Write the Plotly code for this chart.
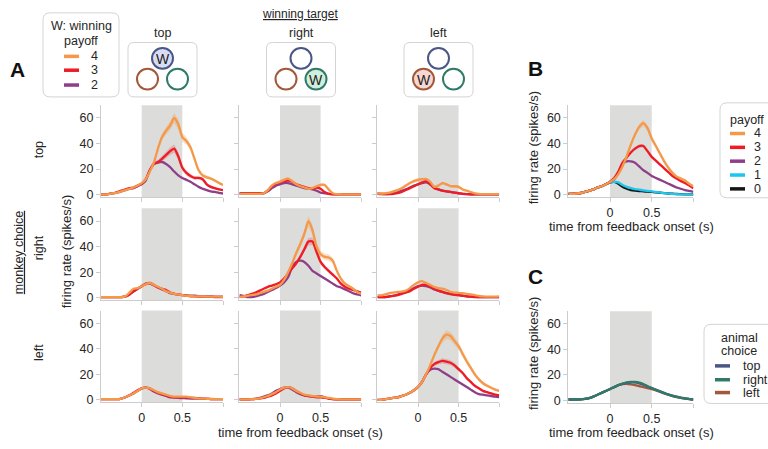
import plotly.graph_objects as go

# ---------------- data ----------------
T = [-0.5, -0.45, -0.4, -0.35, -0.3, -0.25, -0.2, -0.15, -0.1, -0.05, 0.0, 0.05, 0.1, 0.15, 0.2, 0.25,
     0.3, 0.35, 0.4, 0.45, 0.5, 0.55, 0.6, 0.65, 0.7, 0.75, 0.8, 0.85, 0.9, 0.95, 1.0]

X_TICKS = [0, 0.5, 1.0]
X_TICKTEXT = ["0", "0.5", ""]
Y_TICKS = [0, 20, 40, 60]
CHOICES = ["top", "right", "left"]
PAYOFFS = ["4", "3", "2", "1", "0"]

# monkey choice = top
tt4 = [0, 0, 0.5, 1, 1.5, 2.5, 3.5, 4.5, 5.5, 7, 9, 12, 18, 25, 36, 45, 50, 54, 60, 55, 45, 42, 37, 28, 19, 15, 13.5, 12.5, 11, 9, 7.5]
tt3 = [0, 0, 0.5, 1, 2, 3, 4, 5, 5.5, 7, 8.5, 12, 19, 24, 25.5, 28, 31, 34, 36, 30, 21, 17, 14.5, 13, 13, 12, 8, 6, 5, 4, 3.4]
tt2 = [0, 0, 0.5, 1, 1.5, 2.5, 3.5, 4.5, 5, 6.5, 8, 11, 19, 24, 25, 25.5, 24, 21.5, 18, 15, 13, 11.5, 10, 8, 6, 4.5, 3.5, 2.5, 2, 1.3, 0.8]
tr4 = [0.5, 0.5, 0.5, 0.5, 0.5, 0.5, 1, 3.5, 7, 9, 10, 11.5, 12.5, 10.5, 8, 6.5, 5.5, 4.5, 5, 6.5, 7.5, 7.5, 4, 1, 0.3, 0.2, 0.2, 0.2, 0.2, 0.2, 0.2]
tr3 = [1, 0.5, 1, 1, 1, 1, 1, 3, 6.5, 8.5, 9.5, 10.5, 11, 10, 8, 7, 6, 5, 4.5, 5.5, 4.5, 2, 0.5, 0.2, 0.2, 0.2, 0.2, 0.2, 0.2, 0.2, 0.2]
tr2 = [1, 1, 1, 1, 1, 1, 1, 2.5, 5, 7, 8, 9, 9, 8, 7, 6, 5, 4.5, 4, 3, 1.5, 1, 0.5, 0.3, 0.2, 0.2, 0.2, 0.2, 0.2, 0.2, 0.2]
tl4 = [1, 0.8, 1, 1.5, 2.5, 3.5, 5, 7, 9, 10.5, 11.5, 12, 12, 10, 6, 7, 9, 8, 6.5, 6.5, 6, 4, 3, 2, 1, 0.5, 0.3, 0.3, 0.3, 0.3, 0.3]
tl3 = [1, 0.5, 0.3, 0.3, 0.5, 1, 2, 3.5, 5, 6.5, 8, 9.5, 10.5, 8, 5, 4, 3, 2.5, 2, 1.5, 1, 0.5, 0.3, 0.2, 0.2, 0.2, 0.2, 0.2, 0.2, 0.2, 0.2]
tl2 = [0.5, 0.3, 0.3, 0.5, 1, 2, 3, 4, 5.5, 7, 8, 9, 9.5, 8, 5.5, 4, 3, 2.5, 2, 1.5, 1, 0.5, 0.3, 0.2, 0.2, 0.2, 0.2, 0.2, 0.2, 0.2, 0.2]

# monkey choice = right
rt4 = [0.5, 0.5, 0.5, 0.5, 0.5, 0.5, 1, 4, 7, 7.5, 9, 10.5, 11.5, 10, 8.5, 7, 5, 4, 3, 2.5, 2, 1.5, 1.5, 1, 1, 1, 0.8, 0.8, 0.8, 0.8, 0.6]
rt3 = [0.5, 0.5, 0.5, 0.5, 0.5, 0.5, 0.8, 2.5, 5, 7, 9, 11, 11.5, 10, 8, 7, 6, 4, 3, 2.5, 2, 1.5, 1, 1, 0.8, 0.8, 0.6, 0.6, 0.5, 0.5, 0.5]
rt2 = [0.5, 0.5, 0.5, 0.5, 0.5, 0.5, 1, 2.5, 5, 7, 9, 10.5, 11, 9.5, 8, 6.5, 5, 3.5, 3, 2.5, 2, 2, 1.5, 1.5, 1.2, 1, 1, 1, 0.8, 0.8, 0.8]
rr4 = [0.5, 1, 1.5, 2, 2.5, 3.5, 4.5, 5.5, 7, 8.5, 10, 14, 20, 27, 35, 42, 50, 60, 53, 40, 34, 32, 31.5, 29, 21, 15, 11, 9, 7, 4.5, 3]
rr3 = [0.5, 1, 2, 3, 4, 5.5, 7, 8.5, 9.5, 10.5, 12, 15, 19, 23, 27, 32, 38, 44, 44, 36, 28, 24, 21, 18, 15, 11, 8.5, 7, 6, 5, 4]
rr2 = [2, 1.5, 0.5, 0.5, 1, 2, 3, 4.5, 6, 7.5, 9.5, 12, 16, 24, 28, 29, 28, 25, 21, 19, 17, 15, 13, 11, 9, 8, 6.5, 5, 3.5, 2.5, 1.8]
rl4 = [2, 1.8, 2.5, 3.5, 4, 4.5, 4.8, 5.5, 7.5, 10, 12, 13, 11.5, 10, 8.5, 7.5, 7, 6, 4.5, 4, 3.8, 3.5, 3, 2.5, 2, 1.3, 1, 0.8, 0.8, 0.8, 1]
rl3 = [0.5, 0.5, 0.5, 1, 1.5, 2, 3, 4, 5, 7, 8.5, 10, 10, 8.5, 7, 5.5, 4.5, 3.5, 2.8, 2.2, 2, 1.5, 1, 0.8, 0.5, 0.5, 0.5, 0.5, 0.5, 0.5, 0.5]
rl2 = [0.5, 0.5, 0.5, 1, 1.5, 2.5, 3.5, 4.5, 6, 7.5, 9, 9.5, 9, 8, 6.5, 5.5, 4.5, 3.5, 3, 2.5, 2, 1.5, 1, 0.8, 0.6, 0.5, 0.5, 0.5, 0.5, 0.5, 0.5]

# monkey choice = left
lt4 = [0.5, 0.5, 0.5, 0.5, 0.5, 1, 2, 3.5, 5, 7, 9, 9.5, 9, 7.5, 6, 5, 4, 3, 2.5, 2.5, 2.5, 2.5, 2, 1.5, 1, 1, 0.8, 0.8, 0.6, 0.5, 0.5]
lt3 = [0.5, 0.5, 0.5, 0.5, 0.5, 1, 2, 3.5, 5.5, 7.5, 9, 9.5, 9, 7, 5.5, 4.5, 3.5, 2.5, 2, 2, 2, 2, 1.8, 1.5, 1.2, 1, 0.8, 0.6, 0.5, 0.5, 0.5]
lt2 = [0.5, 0.5, 0.5, 0.5, 0.5, 1, 2, 3.5, 5, 7, 9, 9.5, 8.5, 6.5, 5, 4, 3, 2, 1.8, 1.5, 1.3, 1.2, 1, 1, 0.8, 0.8, 0.8, 0.6, 0.6, 0.5, 0.5]
lr4 = [0.3, 0.3, 0.3, 0.5, 0.8, 1.2, 2, 3, 4.5, 6, 8, 9.5, 10, 9, 7, 5.5, 4, 3.5, 3, 2.5, 2.5, 2, 1.5, 1, 0.6, 0.4, 0.3, 0.3, 0.3, 0.3, 0.3]
lr3 = [0.3, 0.3, 0.3, 0.5, 0.8, 1, 1.5, 2.5, 3.5, 5, 7, 9, 10, 9, 7, 5, 3.5, 3, 2.5, 2, 2, 1.5, 1, 0.6, 0.4, 0.3, 0.3, 0.3, 0.3, 0.3, 0.3]
lr2 = [0.3, 0.3, 0.3, 0.5, 0.8, 1.5, 2.5, 3.5, 5, 7, 8.5, 9.5, 9.5, 8, 6, 4.5, 3.5, 3, 2.5, 2.5, 2.8, 2, 1, 0.6, 0.4, 0.3, 0.3, 0.3, 0.3, 0.3, 0.3]
ll4 = [0, 0, 0.5, 1, 1.5, 2, 3, 4, 5.5, 7.5, 10, 14, 20, 27, 35, 42, 48, 51, 50, 46, 42, 36, 30, 25, 20, 16, 13, 11, 9.5, 8, 7]
ll3 = [0, 0, 0.5, 1, 1.5, 2, 3, 4, 5.5, 7.5, 10, 14, 20, 25, 28, 29.5, 30.5, 30, 29, 27, 24, 21, 17, 14, 11, 9, 7, 6, 5, 4, 3.5]
ll2 = [0, 0, 0.5, 1, 1.5, 2, 3, 4, 5.5, 7.5, 10, 14, 20, 23.5, 24.5, 24, 22, 20, 18, 16, 14, 12, 10, 8, 6, 4.5, 4, 3.5, 3, 2.5, 2.2]

# error bands (SEM)
tt4_sem = [0.3, 0.3, 0.3, 0.3, 0.3, 0.4, 0.4, 0.5, 0.5, 0.6, 0.7, 0.9, 1.2, 1.6, 2, 2.5, 3, 3.5, 4, 4, 3.5, 3, 2.5, 2, 1.8, 1.5, 1.3, 1.2, 1.1, 1, 1]
tt3_sem = [0.3, 0.3, 0.3, 0.3, 0.3, 0.4, 0.4, 0.5, 0.5, 0.6, 0.7, 0.9, 1.2, 1.5, 1.8, 2.2, 2.6, 3, 3.2, 3, 2.5, 2, 1.8, 1.5, 1.4, 1.3, 1.1, 1, 0.9, 0.8, 0.8]
rr4_sem = [0.3, 0.3, 0.3, 0.3, 0.4, 0.4, 0.5, 0.5, 0.6, 0.6, 0.8, 1, 1.3, 1.8, 2.2, 2.8, 3.3, 4, 3.8, 3, 2.6, 2.5, 2.5, 2.3, 2, 1.6, 1.3, 1.1, 1, 0.8, 0.7]
rr3_sem = [0.3, 0.3, 0.3, 0.3, 0.4, 0.4, 0.5, 0.5, 0.6, 0.6, 0.8, 1, 1.2, 1.5, 1.8, 2.2, 2.6, 3, 3, 2.5, 2, 1.8, 1.6, 1.4, 1.2, 1, 0.9, 0.8, 0.7, 0.6, 0.6]
ll4_sem = [0.3, 0.3, 0.3, 0.3, 0.4, 0.4, 0.5, 0.5, 0.6, 0.6, 0.8, 1, 1.3, 1.7, 2.1, 2.6, 3, 3.3, 3.3, 3, 2.8, 2.5, 2.2, 2, 1.8, 1.5, 1.3, 1.2, 1.1, 1, 1]
ll3_sem = [0.3, 0.3, 0.3, 0.3, 0.4, 0.4, 0.5, 0.5, 0.6, 0.6, 0.8, 1, 1.2, 1.4, 1.6, 1.8, 2, 2, 2, 1.9, 1.7, 1.5, 1.3, 1.1, 1, 0.8, 0.7, 0.6, 0.6, 0.5, 0.5]
tr4_sem = [0.3, 0.3, 0.3, 0.3, 0.3, 0.3, 0.5, 0.8, 1, 1.2, 1.3, 1.3, 1.3, 1.2, 1, 1, 1, 1, 1, 1.2, 1.3, 1.2, 0.8, 0.5, 0.3, 0.2, 0.2, 0.2, 0.2, 0.2, 0.2]
tl4_sem = [0.4, 0.4, 0.5, 0.6, 0.8, 0.9, 1, 1.1, 1.2, 1.3, 1.3, 1.3, 1.3, 1.2, 1, 1, 1.1, 1.1, 1, 1, 1, 0.8, 0.7, 0.5, 0.4, 0.3, 0.2, 0.2, 0.2, 0.2, 0.2]

# panel B: firing rate by payoff
B4 = [0.5, 0.5, 0.8, 1.2, 2, 3, 4, 5.5, 6.5, 8, 10, 12, 16, 22, 30, 39, 47, 53, 56, 52, 44, 38, 32, 26, 21, 17, 14, 12.5, 11, 8.5, 6.5]
B3 = [0.5, 0.5, 0.8, 1.2, 2, 3, 4, 5.5, 6.5, 8, 10, 13, 18, 25, 29, 33, 36, 38, 38, 34, 29.5, 26.5, 23.5, 20.5, 17.5, 14.5, 12.5, 10.5, 9, 7, 5]
B2 = [0.5, 0.5, 0.8, 1.2, 2, 3, 4, 5.5, 6.5, 8, 10, 12, 17, 24, 26, 26, 25, 22, 19, 17, 14.5, 13, 11.5, 10, 8.5, 7, 5.5, 4.5, 3.5, 2.8, 2]
B1 = [0.5, 0.5, 0.8, 1.2, 2, 3, 4, 5.5, 6.5, 8, 9.5, 10, 9.5, 7.5, 6, 5, 4.3, 3.8, 3.2, 2.8, 2.5, 2, 1.5, 1.1, 0.8, 0.5, 0.3, 0.2, 0.2, 0.2, 0.2]
B0 = [0.5, 0.5, 0.8, 1.2, 2, 3, 4, 5.5, 6.5, 8, 9.5, 10, 8.5, 6, 4.5, 3.5, 3, 2.7, 2.5, 2.2, 2, 1.7, 1.4, 1.1, 0.8, 0.6, 0.4, 0.3, 0.2, 0.2, 0.2]
B4_sem = [0.2, 0.2, 0.2, 0.2, 0.2, 0.3, 0.3, 0.3, 0.4, 0.4, 0.5, 0.6, 0.8, 1, 1.3, 1.6, 2, 2.3, 2.5, 2.3, 2, 1.7, 1.5, 1.3, 1.1, 1, 0.9, 0.8, 0.7, 0.6, 0.6]
B3_sem = [0.2, 0.2, 0.2, 0.2, 0.2, 0.3, 0.3, 0.3, 0.4, 0.4, 0.5, 0.6, 0.7, 0.9, 1, 1.2, 1.3, 1.4, 1.4, 1.3, 1.2, 1.1, 1, 0.9, 0.8, 0.7, 0.6, 0.6, 0.5, 0.5, 0.5]

# panel C: firing rate by animal choice
C_top = [0.8, 0.8, 0.8, 0.9, 1.2, 1.8, 3, 4.5, 6, 7.5, 9, 10.5, 12, 13, 13.8, 14.3, 14.2, 13.5, 12.5, 11, 9.8, 8.5, 7.2, 6, 4.8, 3.8, 3, 2.3, 1.7, 1.2, 0.8]
C_right = [0.8, 0.8, 0.8, 0.9, 1.2, 1.8, 3, 4.5, 6, 7.5, 9, 10.5, 12, 13.2, 14.2, 14.6, 14.5, 14, 12.8, 11.2, 9.8, 8.4, 7, 5.8, 4.6, 3.6, 2.8, 2.1, 1.6, 1.1, 0.8]
C_left = [0.8, 0.8, 0.8, 0.9, 1.2, 1.8, 3, 4.5, 6, 7.5, 8.8, 10.5, 12, 12.8, 13, 12.6, 12, 11.3, 10.5, 9.8, 9, 8, 6.8, 5.6, 4.5, 3.5, 2.7, 2, 1.5, 1.1, 0.8]

# ---------------- styling ----------------
W, H = 768, 449
FONT = "Liberation Sans, Arial, sans-serif"
TXT = "#262626"
AXC = "#cccccc"
C4, C3, C2, C1, C0 = "#f4994a", "#ee1c25", "#8f3e88", "#1cc7ef", "#151515"
BAND = {C4: "rgba(244,153,74,0.32)", C3: "rgba(238,28,37,0.22)"}
CT, CR, CL = "#4a5688", "#2f7a68", "#a3573b"
FT, FR, FL = "#d9ddf3", "#cfeedc", "#f7d7d2"


def X(px):
    return px / W


def Y(py):
    return 1 - py / H


fig = go.Figure()
layout = {}
shapes = []
annotations = []


def add_axes(n, xpx, ypx, show_x, show_y):
    xs = "" if n == 1 else str(n)
    layout["xaxis" + xs] = dict(
        domain=[X(xpx[0]), X(xpx[1])], anchor="y" + xs, range=[-0.5, 1.0],
        showline=True, linecolor=AXC, linewidth=1, ticks="outside", ticklen=4,
        tickcolor=AXC, tickvals=X_TICKS, ticktext=X_TICKTEXT if show_x else ["", "", ""],
        showgrid=False, zeroline=False, tickfont=dict(size=12.5, color=TXT, family=FONT),
        fixedrange=True)
    layout["yaxis" + xs] = dict(
        domain=[Y(ypx[1]), Y(ypx[0])], anchor="x" + xs, range=[-2, 70],
        showline=True, linecolor=AXC, linewidth=1, ticks="outside", ticklen=4,
        tickcolor=AXC, tickvals=Y_TICKS, showticklabels=show_y,
        showgrid=False, zeroline=False, tickfont=dict(size=12.5, color=TXT, family=FONT),
        fixedrange=True)
    shapes.append(dict(type="rect", xref="x" + xs, yref="y" + xs + " domain", x0=0, x1=0.5,
                       y0=0, y1=1, fillcolor="#dcdcdb", line_width=0, layer="below"))
    return "x" + xs, "y" + xs


def add_band(xr, yr, vals, sem, color):
    up = [v + s for v, s in zip(vals, sem)]
    lo = [v - s for v, s in zip(vals, sem)]
    fig.add_trace(go.Scatter(x=T + T[::-1], y=up + lo[::-1], xaxis=xr, yaxis=yr,
                             fill="toself", fillcolor=BAND[color], line=dict(width=0),
                             mode="lines", hoverinfo="skip", showlegend=False))


def add_line(xr, yr, vals, color, width=2.3):
    fig.add_trace(go.Scatter(x=T, y=vals, xaxis=xr, yaxis=yr, mode="lines",
                             line=dict(color=color, width=width, shape="spline", smoothing=0.6),
                             hoverinfo="skip", showlegend=False))


col_px = [(101, 223), (239.4, 361.2), (377.4, 499.2)]
row_px = [(106.4, 199.3), (210.7, 303.6), (314, 406.9)]

panels = [
    [(tt4, tt3, tt2, tt4_sem, tt3_sem), (tr4, tr3, tr2, tr4_sem, None), (tl4, tl3, tl2, tl4_sem, None)],
    [(rt4, rt3, rt2, None, None), (rr4, rr3, rr2, rr4_sem, rr3_sem), (rl4, rl3, rl2, None, None)],
    [(lt4, lt3, lt2, None, None), (lr4, lr3, lr2, None, None), (ll4, ll3, ll2, ll4_sem, ll3_sem)],
]

n = 0
for r in range(3):
    for c in range(3):
        n += 1
        xr, yr = add_axes(n, col_px[c], row_px[r], r == 2, c == 0)
        p4, p3, p2, s4, s3 = panels[r][c]
        if s4 is not None:
            add_band(xr, yr, p4, s4, C4)
        if s3 is not None:
            add_band(xr, yr, p3, s3, C3)
        add_line(xr, yr, p2, C2)
        add_line(xr, yr, p3, C3)
        add_line(xr, yr, p4, C4)

# panel B
n += 1
xr, yr = add_axes(n, (568.3, 693.4), (106.4, 199.3), True, True)
add_band(xr, yr, B4, B4_sem, C4)
add_band(xr, yr, B3, B3_sem, C3)
for vals, col in [(B0, C0), (B1, C1), (B2, C2), (B3, C3), (B4, C4)]:
    add_line(xr, yr, vals, col)

# panel C
n += 1
xr, yr = add_axes(n, (568.3, 693.4), (314.7, 407.6), True, True)
for vals, col in [(C_left, CL), (C_top, CT), (C_right, CR)]:
    add_line(xr, yr, vals, col)


# ---------------- decorations ----------------
def ann(text, x, y, size=12, xanchor="center", angle=0, bold=False, color=TXT):
    if bold:
        text = "<b>" + text + "</b>"
    annotations.append(dict(text=text, x=X(x), y=Y(y), xref="paper", yref="paper",
                            xanchor=xanchor, yanchor="middle", showarrow=False, textangle=angle,
                            font=dict(size=size, color=color, family=FONT)))


def rrect(x0, y0, x1, y1, r, color="#d4d4d4"):
    p = (f"M {X(x0 + r)},{Y(y0)} L {X(x1 - r)},{Y(y0)} Q {X(x1)},{Y(y0)} {X(x1)},{Y(y0 + r)} "
         f"L {X(x1)},{Y(y1 - r)} Q {X(x1)},{Y(y1)} {X(x1 - r)},{Y(y1)} "
         f"L {X(x0 + r)},{Y(y1)} Q {X(x0)},{Y(y1)} {X(x0)},{Y(y1 - r)} "
         f"L {X(x0)},{Y(y0 + r)} Q {X(x0)},{Y(y0)} {X(x0 + r)},{Y(y0)} Z")
    shapes.append(dict(type="path", path=p, xref="paper", yref="paper",
                       line=dict(color=color, width=1), fillcolor="rgba(0,0,0,0)"))


def swatch(x0, x1, y, color):
    shapes.append(dict(type="line", xref="paper", yref="paper", x0=X(x0), x1=X(x1), y0=Y(y), y1=Y(y),
                       line=dict(color=color, width=3.5)))


def circle(cx, cy, r, color, fill):
    shapes.append(dict(type="circle", xref="paper", yref="paper", x0=X(cx - r), x1=X(cx + r),
                       y0=Y(cy + r), y1=Y(cy - r), line=dict(color=color, width=2), fillcolor=fill))


# panel letters
ann("A", 17, 70, size=21, bold=True, color="#111")
ann("B", 535, 69, size=21, bold=True, color="#111")
ann("C", 535, 280, size=21, bold=True, color="#111")

# legend A
rrect(43, 13, 119, 98, 7)
ann("W: winning", 81, 26, size=12.5)
ann("payoff", 81, 41, size=12.5)
for yy, col, lab in [(57, C4, "4"), (71, C3, "3"), (86, C2, "2")]:
    swatch(64, 79, yy, col)
    ann(lab, 89, yy, size=12.5, xanchor="left")

# winning-target icons
ann("<u>winning target</u>", 300, 14, size=12)
icons = [("top", 162.5, 0), ("right", 301, 2), ("left", 438.5, 1)]
for name, cx, win in icons:
    ann(name, cx, 33, size=12.5)
    rrect(cx - 34.5, 43, cx + 34.5, 98, 6)
    pos = [(cx, 59, CT, FT), (cx - 15, 80, CL, FL), (cx + 15, 80, CR, FR)]
    for k, (px_, py_, col, fill) in enumerate(pos):
        is_win = (k == win)
        circle(px_, py_, 10.5, col, fill if is_win else "white")
        if is_win:
            ann("W", px_, py_ + 0.5, size=14, color="#222")

# row labels
ann("<u>monkey choice</u>", 19, 256, size=12.5, angle=-90)
for lab, yy in zip(CHOICES, [152, 251, 357]):
    ann(lab, 39, yy, size=12.5, angle=-90)
ann("firing rate (spikes/s)", 66, 255, size=13, angle=-90)
ann("time from feedback onset (s)", 300, 437, size=13)

# B / C titles
ann("firing rate (spikes/s)", 533, 150, size=13, angle=-90)
ann("time from feedback onset (s)", 631, 229, size=13)
ann("firing rate (spikes/s)", 533, 358, size=13, angle=-90)
ann("time from feedback onset (s)", 631, 437, size=13)

# legend B
rrect(720, 104, 778, 200, 7)
ann("payoff", 747, 121, size=12.5)
for yy, col, lab in zip([135, 149, 163, 177, 191], [C4, C3, C2, C1, C0], PAYOFFS):
    swatch(730, 745, yy, col)
    ann(lab, 752, yy, size=12.5, xanchor="left")

# legend C
rrect(704, 328, 778, 408, 7)
ann("animal", 739, 342, size=12.5)
ann("choice", 739, 355, size=12.5)
for yy, col, lab in zip([370, 384, 397], [CT, CR, CL], CHOICES):
    swatch(715, 730, yy, col)
    ann(lab, 741, yy, size=12.5, xanchor="left")

layout.update(dict(width=W, height=H, margin=dict(l=0, r=0, t=0, b=0),
                   paper_bgcolor="white", plot_bgcolor="rgba(0,0,0,0)",
                   shapes=shapes, annotations=annotations, showlegend=False,
                   font=dict(family=FONT, size=12, color=TXT)))
fig.update_layout(**layout)
fig.write_html("out.html", config={"displayModeBar": False},
               post_script="document.body.style.margin='0';document.body.style.overflow='hidden';")
